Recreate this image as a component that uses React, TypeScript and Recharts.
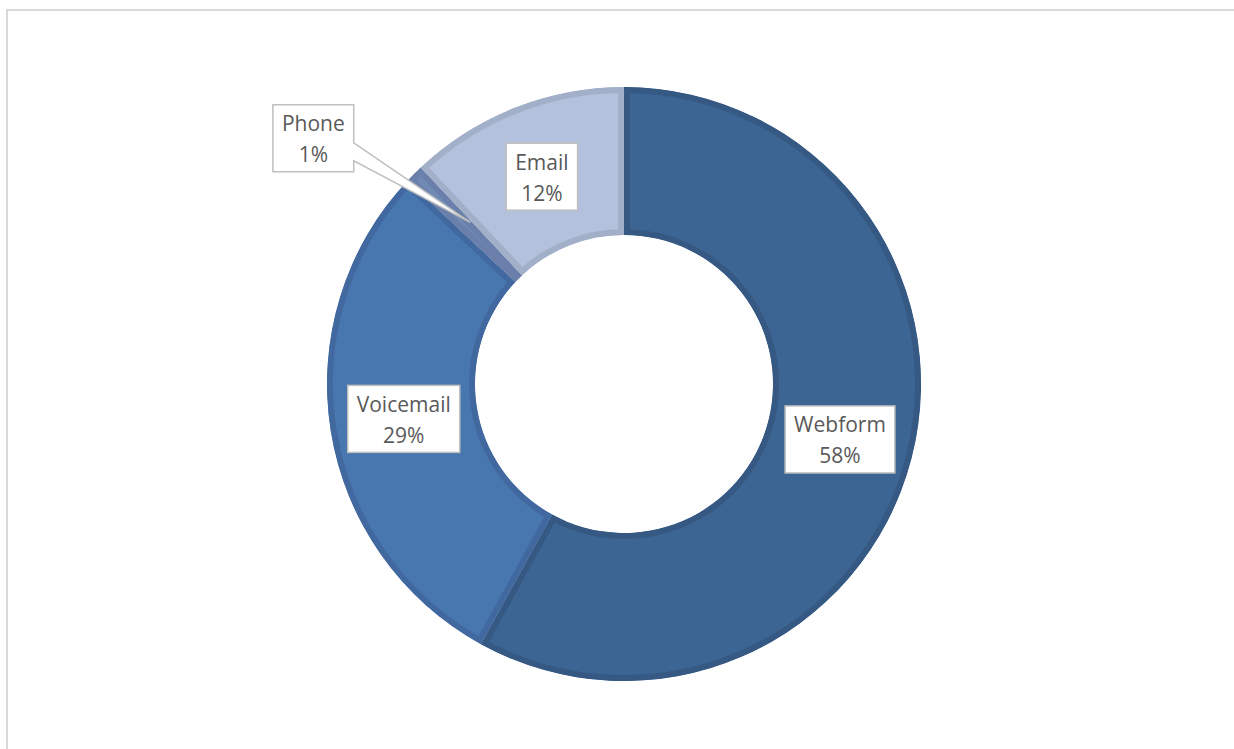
import React from 'react';
import { PieChart, Pie, Cell, Sector } from 'recharts';

const channels = ['Webform', 'Voicemail', 'Phone', 'Email'];
const shares = [58, 29, 1, 12];
const fills = ['#3d6593', '#4877b0', '#7089b5', '#b4c1dc'];
const edges = ['#355983', '#4169a0', '#6a80aa', '#a2afc8'];

const data = channels.map((name, i) => ({ name, value: shares[i] }));

const FONT = '"Open Sans", sans-serif';
const FONT_SIZE = 21;
const RAD = Math.PI / 180;

let ctx: CanvasRenderingContext2D | null = null;
function textWidth(s: string) {
  if (!ctx) ctx = document.createElement('canvas').getContext('2d');
  if (!ctx) return s.length * 10;
  ctx.font = `${FONT_SIZE}px "Open Sans"`;
  return ctx.measureText(s).width;
}

// slice with the border drawn inside its own edge (clip + double stroke)
function InsetSector(props: any) {
  const { cx, cy, innerRadius, outerRadius, startAngle, endAngle, fill, stroke, index } = props;
  const id = `slice-clip-${index}`;
  const geom = { cx, cy, innerRadius, outerRadius, startAngle, endAngle };
  return (
    <g>
      <defs>
        <clipPath id={id}>
          <Sector {...geom} />
        </clipPath>
      </defs>
      <Sector {...geom} fill={fill} stroke={stroke} strokeWidth={12} clipPath={`url(#${id})`} />
    </g>
  );
}

function renderLabel(props: any) {
  const { cx, cy, midAngle, innerRadius, outerRadius, name, value } = props;
  const r = (innerRadius + outerRadius) / 2;
  const ax = cx + r * Math.cos(-midAngle * RAD);
  const ay = cy + r * Math.sin(-midAngle * RAD);
  const line1 = name;
  const line2 = `${value}%`;
  const w = Math.max(textWidth(line1), textWidth(line2)) + 18;
  const h = 67;

  if (value < 3) {
    // small slice: callout box pulled up and left with a tail
    const bx = ax - 153;
    const by = ay - 88;
    const x0 = bx - w / 2;
    const x1 = bx + w / 2;
    const y0 = by - h / 2;
    const y1 = by + h / 2;
    const d = `M${x0},${y0} H${x1} V${y0 + 38} L${ax + 4},${ay - 4} L${x1},${y0 + 56} V${y1} H${x0} Z`;
    return (
      <g>
        <path d={d} fill="#fff" stroke="#bfbfbf" strokeWidth={1.5} />
        <text x={bx} y={by - 15} textAnchor="middle" dominantBaseline="central" fill="#595959" fontSize={FONT_SIZE} fontFamily={FONT}>{line1}</text>
        <text x={bx} y={by + 16} textAnchor="middle" dominantBaseline="central" fill="#595959" fontSize={FONT_SIZE} fontFamily={FONT}>{line2}</text>
      </g>
    );
  }

  return (
    <g>
      <rect x={ax - w / 2} y={ay - h / 2} width={w} height={h} fill="#fff" stroke="#bfbfbf" strokeWidth={1.5} />
      <text x={ax} y={ay - 15} textAnchor="middle" dominantBaseline="central" fill="#595959" fontSize={FONT_SIZE} fontFamily={FONT}>{line1}</text>
      <text x={ax} y={ay + 16} textAnchor="middle" dominantBaseline="central" fill="#595959" fontSize={FONT_SIZE} fontFamily={FONT}>{line2}</text>
    </g>
  );
}

export default function App() {
  return (
    <div style={{ position: 'absolute', left: 0, top: 0, width: 1234, height: 749, overflow: 'hidden', background: '#fff' }}>
      <div
        style={{
          position: 'absolute',
          left: 6,
          top: 9,
          width: 1300,
          height: 800,
          border: '2px solid #d9d9d9',
        }}
      />
      <div style={{ position: 'absolute', left: 0, top: 0 }}>
        <PieChart width={1234} height={749} margin={{ top: 0, right: 0, bottom: 0, left: 0 }}>
          <Pie
            data={data}
            dataKey="value"
            nameKey="name"
            cx={624}
            cy={384}
            innerRadius={149}
            outerRadius={297}
            startAngle={90}
            endAngle={-270}
            isAnimationActive={false}
            labelLine={false}
            label={renderLabel}
            shape={InsetSector}
          >
            {data.map((d, i) => (
              <Cell key={d.name} fill={fills[i]} stroke={edges[i]} strokeWidth={0} />
            ))}
          </Pie>
        </PieChart>
      </div>
    </div>
  );
}
